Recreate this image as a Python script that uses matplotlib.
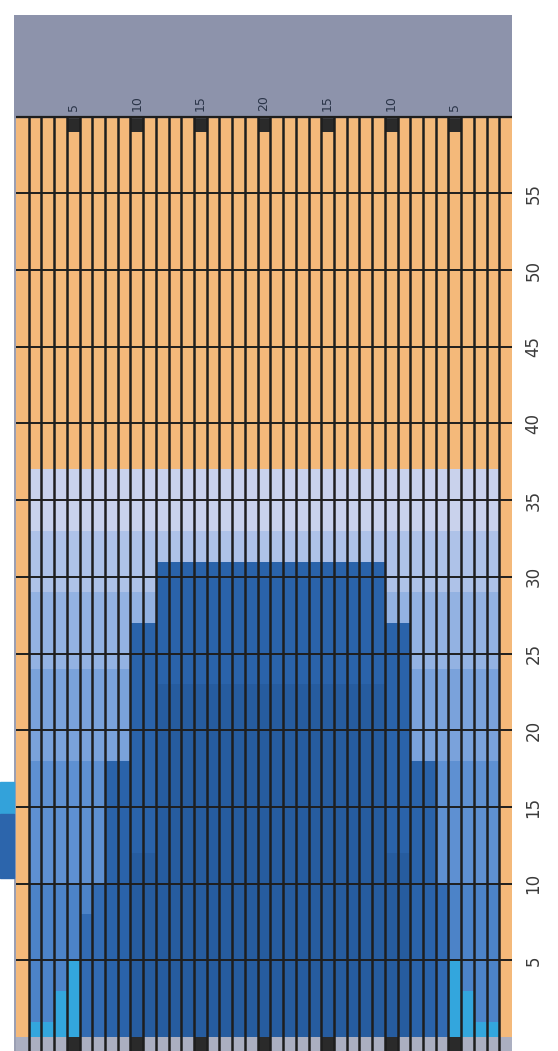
import numpy as np
import matplotlib
matplotlib.use('Agg')
import matplotlib.pyplot as plt
from matplotlib.colors import ListedColormap
from matplotlib.patches import Rectangle

# 39 columns, rows 0..60 (plus a grey strip below 0)
columns = np.arange(1, 40)
tick_cols = [5, 10, 15, 20, 25, 30, 35]
tick_labels = ['5', '10', '15', '20', '15', '10', '5']
row_ticks = [5, 10, 15, 20, 25, 30, 35, 40, 45, 50, 55]

# height of the blue (light) part of each column, edges stay orange
light_top = [0] + [37] * 37 + [0]
# dark block
dark_top = [0, 0, 0, 0, 0, 0, 0, 18, 18, 27, 27] + [31] * 18 + [27, 27, 18, 18, 0, 0, 0, 0, 0, 0]
# darker core inside dark block
core_top = [0, 0, 0, 0, 0, 0, 0, 0, 0, 12, 12] + [23] * 18 + [12, 12, 0, 0, 0, 0, 0, 0, 0, 0]
# small darker patches low in the outer columns
low_dark_top = [0, 0, 0, 0, 0, 8, 10] + [0] * 26 + [10, 0, 0, 0, 0, 0]
# cyan at the bottom
cyan_top = [0, 1, 1, 3, 5] + [0] * 29 + [5, 3, 1, 1, 0]

# light shades from bottom to top
shade_edges = [0, 10, 18, 24, 29, 33, 37]

colors = ['#F4B97A',  # 0 orange
          '#4C83C8', '#5E90D2', '#7AA2DB', '#93B2E2', '#AEC2E8', '#C9D2EC',  # 1-6 shades
          '#2A63AA',  # 7 dark
          '#265C9F',  # 8 core
          '#33A6DD',  # 9 cyan
          '#2A2A2A',  # 10 black marks
          '#ABAFC1',  # 11 grey strip
          '#326BB3']  # 12 low dark patch
cmap = ListedColormap(colors)

row_bottoms = np.arange(-1, 60)
grid = np.zeros((len(row_bottoms), len(columns)), dtype=int)
for j, c in enumerate(columns):
    for i, y0 in enumerate(row_bottoms):
        yc = y0 + 0.5
        if y0 < 0:
            code = 10 if c in tick_cols else 11
        elif y0 == 59 and c in tick_cols:
            code = 10
        elif yc < cyan_top[j]:
            code = 9
        elif yc < core_top[j]:
            code = 8
        elif yc < dark_top[j]:
            code = 7
        elif yc < low_dark_top[j]:
            code = 12
        elif yc < light_top[j]:
            code = int(np.searchsorted(shade_edges, yc))
        else:
            code = 0
        grid[i, j] = code

fig = plt.figure(figsize=(5.58, 10.51), dpi=100)
ax = fig.add_axes([14 / 558, 0, 498 / 558, 1036 / 1051])
ax.set_facecolor('#9A9FB3')

x_edges = np.arange(0.5, 40.5, 1)
y_edges = np.arange(-1, 61, 1)
ax.pcolormesh(x_edges, y_edges, grid, cmap=cmap, vmin=-0.5, vmax=len(colors) - 0.5)

# grey header band
ax.axhspan(60, 67, color='#8D93AB', zorder=1)

# lines
ax.vlines(np.arange(1.5, 39.5, 1), -1, 60, color='#1E1E1E', lw=1.8, zorder=3)
ax.hlines(row_ticks, 0.5, 39.5, color='#1E1E1E', lw=1.4, zorder=3)
ax.hlines([60], 0.5, 39.5, color='#1E1E1E', lw=1.6, zorder=3)

for c, lab in zip(tick_cols, tick_labels):
    ax.text(c, 60.35, lab, rotation=90, ha='center', va='bottom',
            fontsize=9, color='#2A3448', family=['Liberation Sans Narrow', 'DejaVu Sans'])
for v in row_ticks:
    ax.text(41.2, v, str(v), rotation=90, ha='center', va='center',
            fontsize=12, color='#3A3A3A', family=['Liberation Sans Narrow', 'DejaVu Sans'])

ax.set_xlim(0.343, 39.5)
ax.set_ylim(-0.91, 66.63)
ax.set_xticks([])
ax.set_yticks([])
for s in ax.spines.values():
    s.set_visible(False)

# cut-off legend fragment on the left
fig.add_artist(Rectangle((0, (1051 - 814) / 1051), 14 / 558, 32 / 1051,
                         transform=fig.transFigure, color='#33A2DA'))
fig.add_artist(Rectangle((0, (1051 - 878) / 1051), 14 / 558, 64 / 1051,
                         transform=fig.transFigure, color='#2C65AC'))

fig.savefig('out.png', dpi=100)
